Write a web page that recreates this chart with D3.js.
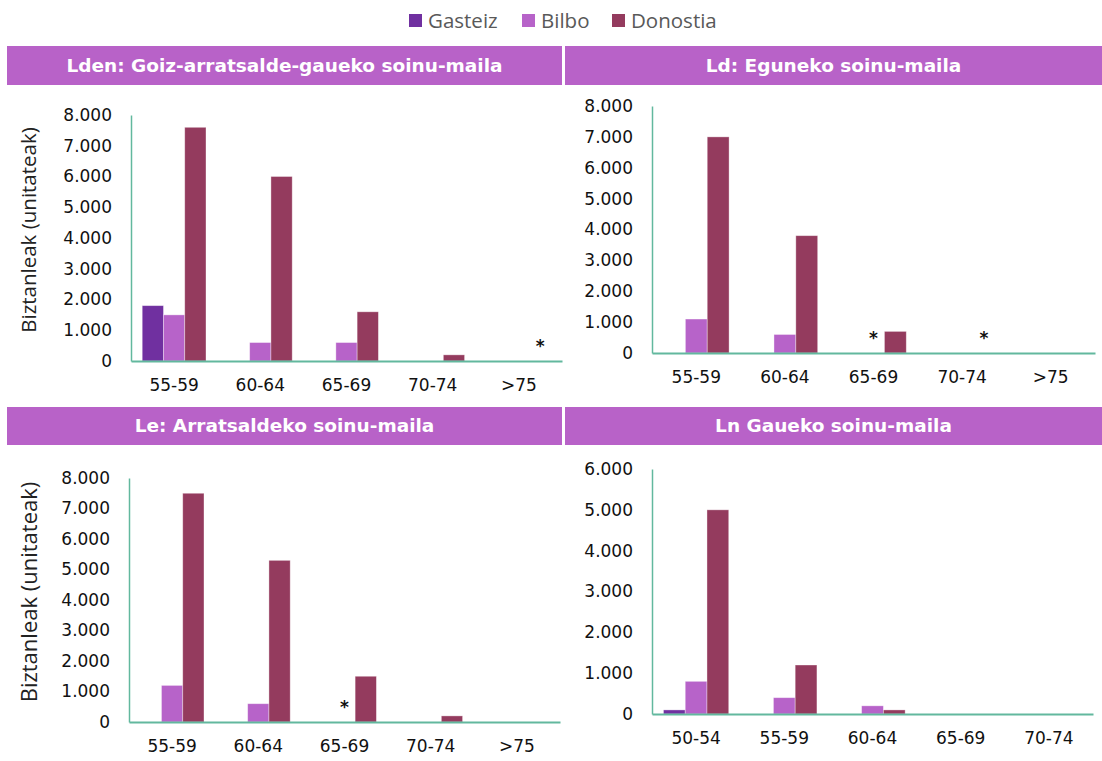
<!DOCTYPE html>
<html>
<head>
<meta charset="utf-8">
<script src="https://cdn.jsdelivr.net/npm/d3@7"></script>
<style>
  html, body { margin: 0; padding: 0; background: #fff; }
  svg { display: block; }
</style>
</head>
<body>
<svg id="chart" width="1102" height="761"></svg>
<script>
// ---- data ----
const seriesNames = ["Gasteiz", "Bilbo", "Donostia"];
const seriesColors = ["#7030a0", "#b763c9", "#943b5e"];

const ldenTitle = "Lden: Goiz-arratsalde-gaueko soinu-maila";
const ldenCategories = ["55-59", "60-64", "65-69", "70-74", ">75"];
const ldenGasteiz = [1800, 0, 0, 0, 0];
const ldenBilbo = [1500, 600, 600, 0, 0];
const ldenDonostia = [7600, 6000, 1600, 200, 0];
const ldenTicks = [0, 1000, 2000, 3000, 4000, 5000, 6000, 7000, 8000];
const ldenStars = [[">75", "Donostia"]];

const ldTitle = "Ld: Eguneko soinu-maila";
const ldCategories = ["55-59", "60-64", "65-69", "70-74", ">75"];
const ldGasteiz = [0, 0, 0, 0, 0];
const ldBilbo = [1100, 600, 0, 0, 0];
const ldDonostia = [7000, 3800, 700, 0, 0];
const ldTicks = [0, 1000, 2000, 3000, 4000, 5000, 6000, 7000, 8000];
const ldStars = [["65-69", "Bilbo"], ["70-74", "Donostia"]];

const leTitle = "Le: Arratsaldeko soinu-maila";
const leCategories = ["55-59", "60-64", "65-69", "70-74", ">75"];
const leGasteiz = [0, 0, 0, 0, 0];
const leBilbo = [1200, 600, 0, 0, 0];
const leDonostia = [7500, 5300, 1500, 200, 0];
const leTicks = [0, 1000, 2000, 3000, 4000, 5000, 6000, 7000, 8000];
const leStars = [["65-69", "Bilbo"]];

const lnTitle = "Ln Gaueko soinu-maila";
const lnCategories = ["50-54", "55-59", "60-64", "65-69", "70-74"];
const lnGasteiz = [100, 0, 0, 0, 0];
const lnBilbo = [800, 400, 200, 0, 0];
const lnDonostia = [5000, 1200, 100, 0, 0];
const lnTicks = [0, 1000, 2000, 3000, 4000, 5000, 6000];
const lnStars = [];

const yAxisTitle = "Biztanleak (unitateak)";

// ---- layout ----
const svg = d3.select("#chart");
const headerColor = "#b862c8";
const axisColor = "#62b89e";
const tickFont = "'DejaVu Sans', Verdana, sans-serif";
const loc = d3.formatLocale({ decimal: ",", thousands: ".", grouping: [3], currency: ["", ""] });
const fmt = loc.format(",d");

const panels = [
  { title: ldenTitle, cats: ldenCategories, vals: [ldenGasteiz, ldenBilbo, ldenDonostia], ticks: ldenTicks, stars: ldenStars,
    header: { x: 7, y: 46, w: 555, h: 39 }, plot: { x0: 131, x1: 562, top: 115, bot: 361 }, ytitle: { x: 29, size: 20.5 } },
  { title: ldTitle, cats: ldCategories, vals: [ldGasteiz, ldBilbo, ldDonostia], ticks: ldTicks, stars: ldStars,
    header: { x: 565, y: 46, w: 537, h: 39 }, plot: { x0: 652, x1: 1095, top: 106, bot: 353 }, ytitle: null },
  { title: leTitle, cats: leCategories, vals: [leGasteiz, leBilbo, leDonostia], ticks: leTicks, stars: leStars,
    header: { x: 7, y: 407, w: 555, h: 38 }, plot: { x0: 129, x1: 560, top: 478, bot: 722 }, ytitle: { x: 29, size: 22 } },
  { title: lnTitle, cats: lnCategories, vals: [lnGasteiz, lnBilbo, lnDonostia], ticks: lnTicks, stars: lnStars,
    header: { x: 565, y: 407, w: 537, h: 38 }, plot: { x0: 652, x1: 1093, top: 469, bot: 714 }, ytitle: null }
];

// legend
const legendItems = [
  { name: seriesNames[0], color: seriesColors[0], x: 409 },
  { name: seriesNames[1], color: seriesColors[1], x: 522 },
  { name: seriesNames[2], color: seriesColors[2], x: 612 }
];
const lg = svg.append("g");
legendItems.forEach(d => {
  lg.append("rect").attr("x", d.x).attr("y", 14).attr("width", 13).attr("height", 13).attr("fill", d.color);
  lg.append("text").attr("x", d.x + 19).attr("y", 28)
    .attr("font-family", "'Open Sans', sans-serif").attr("font-size", 20.5).attr("fill", "#595959")
    .text(d.name);
});

panels.forEach(p => {
  const g = svg.append("g");
  // header
  g.append("rect").attr("x", p.header.x).attr("y", p.header.y).attr("width", p.header.w).attr("height", p.header.h)
    .attr("fill", headerColor);
  g.append("text").attr("x", p.header.x + p.header.w / 2).attr("y", p.header.y + p.header.h / 2)
    .attr("dy", "0.35em").attr("text-anchor", "middle")
    .attr("font-family", tickFont).attr("font-weight", "bold").attr("font-size", 18.5).attr("fill", "#fff")
    .text(p.title);

  const x = d3.scaleBand().domain(p.cats).range([p.plot.x0, p.plot.x1]).paddingInner(0.26).paddingOuter(0.13);
  const xs = d3.scaleBand().domain(seriesNames).range([0, x.bandwidth()]).padding(0);
  const ymax = p.ticks[p.ticks.length - 1];
  const y = d3.scaleLinear().domain([0, ymax]).range([p.plot.bot, p.plot.top]);

  // bars
  seriesNames.forEach((s, si) => {
    g.append("g").selectAll("rect")
      .data(p.cats.map((c, ci) => ({ c, v: p.vals[si][ci] })).filter(d => d.v > 0))
      .join("rect")
      .attr("x", d => x(d.c) + xs(s))
      .attr("y", d => y(d.v))
      .attr("width", xs.bandwidth())
      .attr("height", d => y(0) - y(d.v))
      .attr("fill", seriesColors[si])
      .attr("stroke", "#ffffff").attr("stroke-opacity", 0.45).attr("stroke-width", 0.8);
  });

  // y axis
  const ya = g.append("g").attr("transform", `translate(${p.plot.x0},0)`)
    .call(d3.axisLeft(y).tickValues(p.ticks).tickFormat(fmt).tickSize(0).tickPadding(19));
  ya.select(".domain").attr("stroke", axisColor).attr("stroke-width", 1.5);
  ya.selectAll("text").attr("font-family", tickFont).attr("font-size", 17).attr("fill", "#111");

  // x axis
  const xa = g.append("g").attr("transform", `translate(0,${p.plot.bot})`)
    .call(d3.axisBottom(x).tickSize(0).tickPadding(18));
  xa.select(".domain").attr("stroke", axisColor).attr("stroke-width", 2);
  xa.selectAll("text").attr("font-family", tickFont).attr("font-size", 17).attr("fill", "#111");

  // asterisks
  g.append("g").selectAll("text").data(p.stars).join("text")
    .attr("x", d => x(d[0]) + xs(d[1]) + xs.bandwidth() / 2)
    .attr("y", p.plot.bot - 9)
    .attr("text-anchor", "middle")
    .attr("font-family", tickFont).attr("font-weight", "bold").attr("font-size", 17).attr("fill", "#111")
    .text("*");

  // y title
  if (p.ytitle) {
    g.append("text")
      .attr("transform", `translate(${p.ytitle.x},${(p.plot.top + p.plot.bot) / 2 - 8}) rotate(-90)`)
      .attr("text-anchor", "middle").attr("dy", "0.35em")
      .attr("font-family", "'Open Sans', sans-serif").attr("font-size", p.ytitle.size).attr("fill", "#222")
      .text(yAxisTitle);
  }
});
</script>
</body>
</html>
